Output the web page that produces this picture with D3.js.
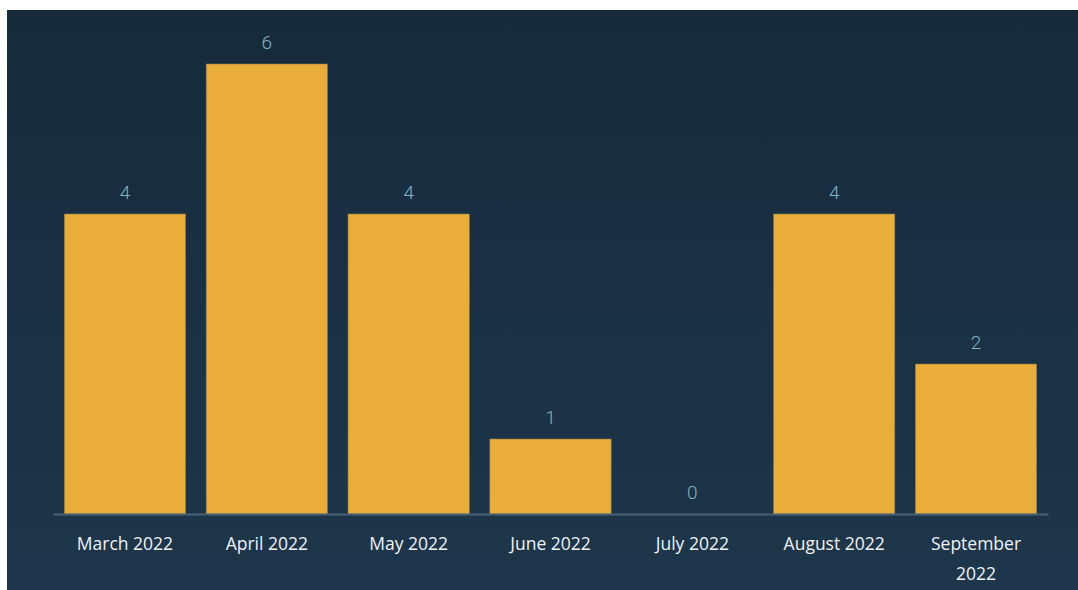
<!DOCTYPE html>
<html>
<head>
<meta charset="utf-8">
<script src="https://cdn.jsdelivr.net/npm/d3@7"></script>
<style>
  body { margin: 0; background: #fff; }
  svg { display: block; }
  .x-axis text { font-family: "Open Sans", sans-serif; font-size: 17.5px; fill: #eef1f4; }
  .value-label { font-family: Roboto, sans-serif; font-weight: 300; font-size: 19px; fill: #7fb3c4; }
</style>
</head>
<body>
<div id="chart"></div>
<script>
// monthly counts, Mar - Sep 2022
const months = ["March 2022", "April 2022", "May 2022", "June 2022", "July 2022", "August 2022", "September 2022"];
const counts = [4, 6, 4, 1, 0, 4, 2];

const width = 1078;
const height = 590;
const margin = { top: 64, right: 30, bottom: 76, left: 53 };
const panel = { x: 7, y: 10 };

const svg = d3.select("#chart")
    .append("svg")
    .attr("width", width)
    .attr("height", height);

const grad = svg.append("defs").append("linearGradient")
    .attr("id", "bg")
    .attr("x1", 0).attr("y1", 0)
    .attr("x2", 0).attr("y2", 1);
grad.append("stop").attr("offset", "0%").attr("stop-color", "#162a3a");
grad.append("stop").attr("offset", "100%").attr("stop-color", "#1e364b");

svg.append("rect")
    .attr("x", panel.x)
    .attr("y", panel.y)
    .attr("width", width - panel.x)
    .attr("height", height - panel.y)
    .attr("fill", "url(#bg)");

const xScale = d3.scaleBand()
    .domain(months)
    .range([margin.left, width - margin.right])
    .paddingInner(0.145)
    .paddingOuter(0.08);

const yScale = d3.scaleLinear()
    .domain([0, 6])
    .range([height - margin.bottom, margin.top]);

const baseY = yScale(0);

svg.append("g")
    .selectAll("rect")
    .data(counts)
    .enter()
    .append("rect")
    .attr("x", (d, i) => xScale(months[i]))
    .attr("y", d => yScale(d))
    .attr("width", xScale.bandwidth())
    .attr("height", d => baseY - yScale(d))
    .attr("fill", "#e8ad3a")
    .attr("stroke", "#8c7a4e")
    .attr("stroke-width", 0.6);

svg.append("g")
    .selectAll("text")
    .data(counts)
    .enter()
    .append("text")
    .attr("class", "value-label")
    .attr("x", (d, i) => xScale(months[i]) + xScale.bandwidth() / 2)
    .attr("y", d => yScale(d) - 22)
    .attr("text-anchor", "middle")
    .attr("dominant-baseline", "central")
    .text(d => d);

const xAxis = svg.append("g")
    .attr("class", "x-axis")
    .attr("transform", `translate(0,${baseY})`)
    .call(d3.axisBottom(xScale).tickSize(0).tickPadding(24));

xAxis.select(".domain")
    .attr("stroke", "#4a6174")
    .attr("stroke-width", 2);

// wrap long labels onto a second line
xAxis.selectAll(".tick text").each(function () {
    const text = d3.select(this);
    if (this.getComputedTextLength() <= xScale.bandwidth()) return;
    const words = text.text().split(" ");
    const y = text.attr("y");
    text.text(null);
    words.forEach((w, i) => {
        text.append("tspan")
            .attr("x", 0)
            .attr("y", y)
            .attr("dy", i === 0 ? "0.71em" : `${0.71 * 17.5 + 30 * i}px`)
            .text(w);
    });
});
</script>
</body>
</html>
